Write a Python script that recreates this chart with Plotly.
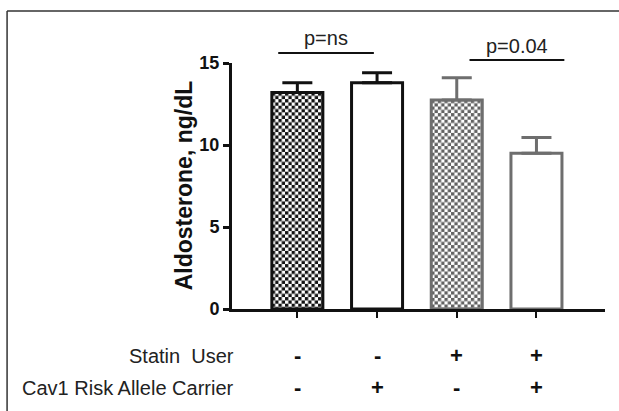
import base64
import plotly.graph_objects as go

# ---------------- data ----------------
groups = ["G1", "G2", "G3", "G4"]
means = [13.2, 13.8, 12.75, 9.5]
sem = [0.6, 0.6, 1.35, 0.95]
statin_user = ["-", "-", "+", "+"]
cav1_carrier = ["-", "+", "-", "+"]
row_labels = ["Statin\u00a0 User", "Cav1 Risk Allele Carrier"]
y_ticks = [0, 5, 10, 15]
comparisons = [(0, 1, "p=ns"), (2, 3, "p=0.04")]

# ---------------- styles ----------------
BLACK = "#111111"
GRAY = "#6e6e6e"
CHECK_GRAY = "#626262"
FONT = "Liberation Sans, Arial, sans-serif"
bar_colors = [BLACK, BLACK, GRAY, GRAY]
checker = [True, False, True, False]
checker_colors = [BLACK, None, CHECK_GRAY, None]
BAR_W = 0.64
X_RANGE = [-0.82, 3.86]
Y_RANGE = [0, 15]
W, H = 619, 411
M = dict(l=232, r=14, t=63, b=102)
x_pos = list(range(len(groups)))

px_per_x = (W - M["l"] - M["r"]) / (X_RANGE[1] - X_RANGE[0])
px_per_y = (H - M["t"] - M["b"]) / (Y_RANGE[1] - Y_RANGE[0])


def checker_uri(w, h, col, s=3.3):
    svg = (
        f'<svg xmlns="http://www.w3.org/2000/svg" width="{w:.1f}" height="{h:.1f}" '
        f'viewBox="0 0 {w:.1f} {h:.1f}" preserveAspectRatio="none">'
        f'<defs><pattern id="p" width="{2*s}" height="{2*s}" patternUnits="userSpaceOnUse">'
        f'<rect width="{2*s}" height="{2*s}" fill="white"/>'
        f'<rect width="{s}" height="{s}" fill="{col}"/>'
        f'<rect x="{s}" y="{s}" width="{s}" height="{s}" fill="{col}"/>'
        f'</pattern></defs><rect width="{w:.1f}" height="{h:.1f}" fill="url(#p)"/></svg>'
    )
    return "data:image/svg+xml;base64," + base64.b64encode(svg.encode()).decode()


fig = go.Figure()
for i in x_pos:
    col = bar_colors[i]
    fig.add_trace(go.Bar(
        x=[x_pos[i]],
        y=[means[i]],
        width=BAR_W,
        marker=dict(
            color="rgba(0,0,0,0)" if checker[i] else "white",
            line=dict(color=col, width=3),
        ),
        error_y=dict(
            type="data",
            array=[sem[i]],
            arrayminus=[0],
            symmetric=False,
            color=col,
            thickness=3,
            width=15,
        ),
        showlegend=False,
        hoverinfo="skip",
    ))

images = []
for i in x_pos:
    if checker[i]:
        images.append(dict(
            source=checker_uri(BAR_W * px_per_x, means[i] * px_per_y, checker_colors[i]),
            xref="x", yref="y",
            x=x_pos[i] - BAR_W / 2, y=means[i],
            sizex=BAR_W, sizey=means[i],
            xanchor="left", yanchor="top",
            sizing="stretch", layer="below",
        ))

shapes = []
annotations = []

# significance brackets
bracket_y = [1.041, 1.012]
text_y = [1.10, 1.069]
for k, (a, b, txt) in enumerate(comparisons):
    x0 = x_pos[a] - 0.24 if k == 0 else x_pos[a] + 0.16
    x1 = x_pos[b] - 0.04 if k == 0 else x_pos[b] + 0.35
    shapes.append(dict(type="line", xref="x", yref="paper", x0=x0, x1=x1,
                       y0=bracket_y[k], y1=bracket_y[k],
                       line=dict(color=BLACK, width=2)))
    annotations.append(dict(text=txt, xref="x", yref="paper", x=(x0 + x1) / 2,
                            y=text_y[k], xanchor="center", yanchor="middle",
                            showarrow=False,
                            font=dict(family=FONT, size=20, color="#222222")))

# outer frame (top and left edges)
fx = -0.603
fy = 1.2114
shapes.append(dict(type="line", xref="paper", yref="paper", x0=fx, x1=fx,
                   y0=-0.5, y1=fy, line=dict(color="#333333", width=1.5)))
shapes.append(dict(type="line", xref="paper", yref="paper", x0=fx, x1=1.2,
                   y0=fy, y1=fy, line=dict(color="#333333", width=1.5)))

# condition rows
row_y = [-0.191, -0.321]
for r, (lab, vals) in enumerate(zip(row_labels, [statin_user, cav1_carrier])):
    annotations.append(dict(text=lab, xref="paper", yref="paper", x=0.011,
                            y=row_y[r], xanchor="right", yanchor="middle",
                            showarrow=False,
                            font=dict(family=FONT, size=20, color="#222222")))
    for xi, v in zip(x_pos, vals):
        annotations.append(dict(text="<b>%s</b>" % v, xref="x", yref="paper",
                                x=xi, y=row_y[r], xanchor="center",
                                yanchor="middle", showarrow=False,
                                font=dict(family=FONT, size=22, color=BLACK)))

# y-axis title
annotations.append(dict(text="<b>Aldosterone, ng/dL</b>", xref="paper",
                        yref="paper", x=-0.128, y=0.504, textangle=-90,
                        xanchor="center", yanchor="middle", showarrow=False,
                        font=dict(family=FONT, size=23, color=BLACK)))

fig.update_layout(
    width=W, height=H,
    margin=M,
    paper_bgcolor="white", plot_bgcolor="rgba(0,0,0,0)",
    barmode="overlay",
    shapes=shapes,
    annotations=annotations,
    images=images,
    xaxis=dict(
        range=X_RANGE,
        tickvals=x_pos,
        showticklabels=False,
        ticks="outside", ticklen=6, tickwidth=2, tickcolor=BLACK,
        showline=True, linewidth=3, linecolor=BLACK,
        showgrid=False, zeroline=False,
    ),
    yaxis=dict(
        range=Y_RANGE,
        tickvals=y_ticks,
        ticktext=["<b>%d</b>" % t for t in y_ticks],
        ticks="outside", ticklen=6, tickwidth=2.5, tickcolor=BLACK,
        tickfont=dict(family=FONT, size=18, color=BLACK),
        showline=True, linewidth=3, linecolor=BLACK,
        showgrid=False, zeroline=False,
    ),
)

fig.write_html(
    "out.html",
    config={"displayModeBar": False},
    post_script="document.body.style.margin='0';document.body.style.overflow='hidden';",
)
